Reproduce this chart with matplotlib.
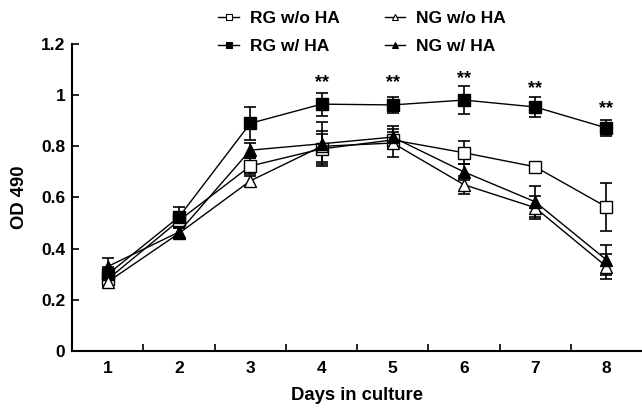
import matplotlib
matplotlib.use("Agg")
import matplotlib.pyplot as plt
import numpy as np

plt.rcParams['font.family'] = ['Liberation Sans', 'DejaVu Sans']
plt.rcParams['font.weight'] = 'bold'

days = [1, 2, 3, 4, 5, 6, 7, 8]
series_names = ["RG w/o HA", "RG w/ HA", "NG w/o HA", "NG w/ HA"]

rg_wo = [0.28, 0.51, 0.723, 0.79, 0.825, 0.775, 0.72, 0.563]
rg_wo_err = [0.02, 0.03, 0.03, 0.06, 0.03, 0.045, 0.01, 0.095]
rg_w = [0.30, 0.524, 0.89, 0.965, 0.962, 0.981, 0.954, 0.872]
rg_w_err = [0.03, 0.04, 0.065, 0.045, 0.031, 0.055, 0.04, 0.03]
ng_wo = [0.27, 0.46, 0.665, 0.80, 0.813, 0.65, 0.56, 0.33]
ng_wo_err = [0.02, 0.02, 0.02, 0.06, 0.055, 0.035, 0.045, 0.05]
ng_w = [0.33, 0.465, 0.785, 0.81, 0.836, 0.70, 0.583, 0.356]
ng_w_err = [0.035, 0.02, 0.03, 0.085, 0.045, 0.03, 0.06, 0.058]

star_days = [4, 5, 6, 7, 8]
star_y = [1.05, 1.05, 1.063, 1.025, 0.947]

y_ticks = [0, 0.2, 0.4, 0.6, 0.8, 1, 1.2]
y_tick_labels = ["0", "0.2", "0.4", "0.6", "0.8", "1", "1.2"]

fig = plt.figure(figsize=(6.42, 4.08), dpi=100)
ax = fig.add_axes([0.1125, 0.14, 0.8875, 0.752])

styles = [
    (rg_wo, rg_wo_err, 's', 'white'),
    (rg_w, rg_w_err, 's', 'black'),
    (ng_wo, ng_wo_err, '^', 'white'),
    (ng_w, ng_w_err, '^', 'black'),
]
handles = []
for (vals, errs, m, fc), name in zip(styles, series_names):
    ax.errorbar(days, vals, yerr=errs, fmt='none', ecolor='black',
                elinewidth=1.2, capsize=4.5, capthick=1.2, zorder=2)
    ax.plot(days, vals, color='black', lw=1.0, marker=m, markersize=9,
            markerfacecolor=fc, markeredgecolor='black', markeredgewidth=1.0, zorder=3)
    h, = ax.plot([], [], color='black', lw=1.0, marker=m, markersize=5,
                 markerfacecolor=fc, markeredgecolor='black', markeredgewidth=0.8)
    handles.append((h, name))

for d, y in zip(star_days, star_y):
    ax.text(d, y, "**", ha='center', va='center', fontsize=13, fontweight='bold')

ax.set_xlim(0.5, 8.5)
ax.set_ylim(0, 1.2)
ax.set_yticks(y_ticks)
ax.set_yticklabels(y_tick_labels)
ax.set_xticks(days)
ax.set_xticklabels([str(d) for d in days])
ax.set_xticks(np.arange(1.5, 8.5, 1.0), minor=True)
ax.tick_params(axis='x', which='major', length=0, pad=7, labelsize=12.5)
ax.tick_params(axis='x', which='minor', direction='in', length=5, width=1.2)
ax.tick_params(axis='y', direction='in', length=5, width=1.2, labelsize=12.5, pad=5)
for lbl in ax.get_xticklabels() + ax.get_yticklabels():
    lbl.set_fontweight('bold')

for s in ['top', 'right']:
    ax.spines[s].set_visible(False)
for s in ['left', 'bottom']:
    ax.spines[s].set_linewidth(1.5)

ax.set_xlabel("Days in culture", fontsize=13.3, fontweight='bold', labelpad=8)
ax.set_ylabel("OD 490", fontsize=13.3, fontweight='bold', labelpad=9)

order = [0, 1, 2, 3]
leg = fig.legend([handles[i][0] for i in order], [handles[i][1] for i in order],
                 ncol=2, frameon=False, loc='upper left',
                 bbox_to_anchor=(0.316, 1.012), fontsize=12.5,
                 handlelength=1.2, handletextpad=0.6, columnspacing=2.6,
                 labelspacing=0.75)
for t in leg.get_texts():
    t.set_fontweight('bold')

fig.savefig("out.png", dpi=100)
